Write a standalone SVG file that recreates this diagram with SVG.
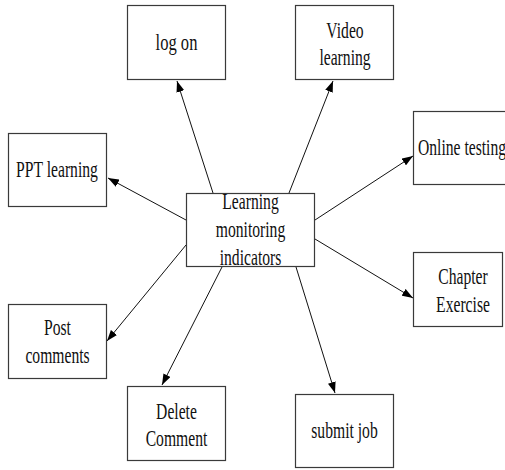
<svg xmlns="http://www.w3.org/2000/svg" width="505" height="470" viewBox="0 0 505 470">
  <style>
    .box { fill: #ffffff; stroke: #3a3a3a; stroke-width: 1.2; }
    .lbl { font-family: "Liberation Serif", "Times New Roman", serif; font-size: 23px; fill: #111111; text-anchor: middle; }
    .edge { stroke: #111111; stroke-width: 1; fill: none; marker-end: url(#arrow); }
  </style>
  <defs>
    <marker id="arrow" markerUnits="userSpaceOnUse" markerWidth="11" markerHeight="8" refX="11" refY="4" orient="auto">
      <path d="M0,0 L11,4 L0,8 z" fill="#000000"/>
    </marker>
  </defs>
  <rect width="505" height="470" fill="#ffffff"/>

  <g id="connectors">
    <line class="edge" x1="213" y1="193" x2="177" y2="81"/>
    <line class="edge" x1="186" y1="220" x2="108" y2="178"/>
    <line class="edge" x1="289" y1="193" x2="333" y2="81"/>
    <line class="edge" x1="315" y1="220" x2="413" y2="156"/>
    <line class="edge" x1="315" y1="239" x2="413" y2="298"/>
    <line class="edge" x1="296" y1="267" x2="335" y2="393"/>
    <line class="edge" x1="186" y1="245" x2="107" y2="341"/>
    <line class="edge" x1="222" y1="267" x2="162" y2="385"/>
  </g>

  <g id="center">
    <rect class="box" x="186.5" y="193.5" width="128" height="73"/>
    <text class="lbl" transform="translate(250.5,209) scale(0.68,1)">Learning</text>
    <text class="lbl" transform="translate(250.5,237) scale(0.68,1)">monitoring</text>
    <text class="lbl" transform="translate(250.5,265) scale(0.68,1)">indicators</text>
  </g>

  <g id="log-on">
    <rect class="box" x="127.5" y="5.5" width="98" height="74"/>
    <text class="lbl" transform="translate(176.5,50) scale(0.72,1)">log on</text>
  </g>

  <g id="video-learning">
    <rect class="box" x="295.5" y="5.5" width="98" height="74"/>
    <text class="lbl" transform="translate(345,37.5) scale(0.68,1)">Video</text>
    <text class="lbl" transform="translate(345,65) scale(0.68,1)">learning</text>
  </g>

  <g id="ppt-learning">
    <rect class="box" x="8.5" y="133.5" width="98" height="73"/>
    <text class="lbl" transform="translate(57,177) scale(0.68,1)">PPT learning</text>
  </g>

  <g id="online-testing">
    <rect class="box" x="413.5" y="111.5" width="98" height="73"/>
    <text class="lbl" transform="translate(462,155) scale(0.68,1)">Online testing</text>
  </g>

  <g id="chapter-exercise">
    <rect class="box" x="413.5" y="252.5" width="89" height="74"/>
    <text class="lbl" transform="translate(463,284) scale(0.68,1)">Chapter</text>
    <text class="lbl" transform="translate(463,312) scale(0.68,1)">Exercise</text>
  </g>

  <g id="post-comments">
    <rect class="box" x="8.5" y="304.5" width="98" height="74"/>
    <text class="lbl" transform="translate(57.5,335) scale(0.68,1)">Post</text>
    <text class="lbl" transform="translate(57.5,363) scale(0.68,1)">comments</text>
  </g>

  <g id="delete-comment">
    <rect class="box" x="127.5" y="386.5" width="98" height="74"/>
    <text class="lbl" transform="translate(176.5,419) scale(0.68,1)">Delete</text>
    <text class="lbl" transform="translate(176.5,446) scale(0.68,1)">Comment</text>
  </g>

  <g id="submit-job">
    <rect class="box" x="295.5" y="394.5" width="98" height="73"/>
    <text class="lbl" transform="translate(344.5,438) scale(0.68,1)">submit job</text>
  </g>
</svg>
